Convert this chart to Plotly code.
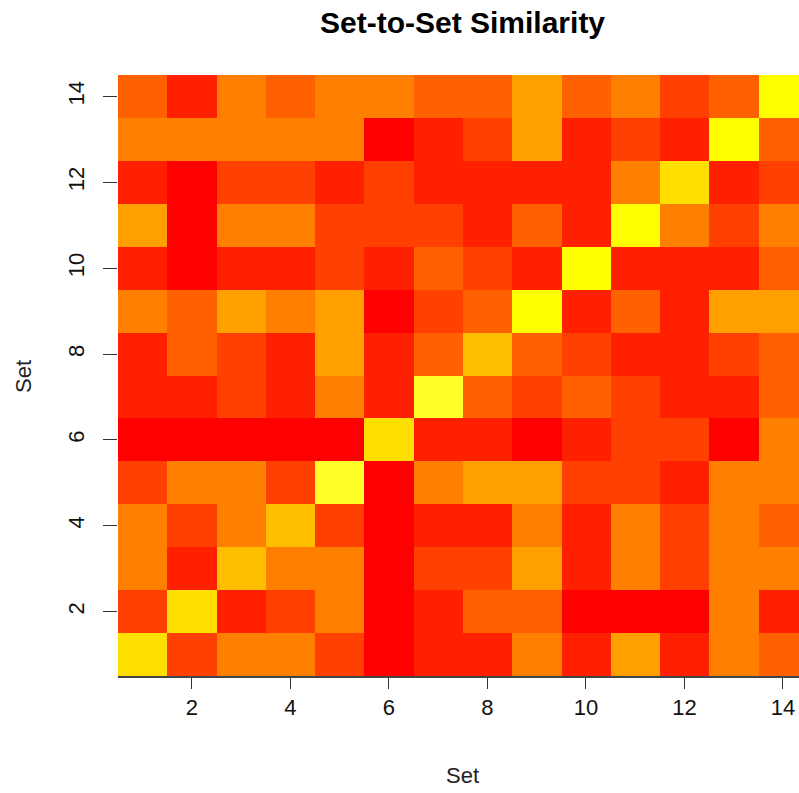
import plotly.graph_objects as go

# Set indices (1..14) used on both axes
sets = list(range(1, 15))

# Similarity level per pair of sets (0 = least similar, 11 = most similar),
# one list per set, ordered set 1 .. set 14
similarity_level = [
    [7, 2, 4, 4, 2, 0, 1, 1, 4, 1, 5, 1, 4, 3],
    [2, 7, 1, 2, 4, 0, 1, 3, 3, 0, 0, 0, 4, 1],
    [4, 1, 6, 4, 4, 0, 2, 2, 5, 1, 4, 2, 4, 4],
    [4, 2, 4, 6, 2, 0, 1, 1, 4, 1, 4, 2, 4, 3],
    [2, 4, 4, 2, 9, 0, 4, 5, 5, 2, 2, 1, 4, 4],
    [0, 0, 0, 0, 0, 7, 1, 1, 0, 1, 2, 2, 0, 4],
    [1, 1, 2, 1, 4, 1, 9, 3, 2, 3, 2, 1, 1, 3],
    [1, 3, 2, 1, 5, 1, 3, 6, 3, 2, 1, 1, 2, 3],
    [4, 3, 5, 4, 5, 0, 2, 3, 8, 1, 3, 1, 5, 5],
    [1, 0, 1, 1, 2, 1, 3, 2, 1, 8, 1, 1, 1, 3],
    [5, 0, 4, 4, 2, 2, 2, 1, 3, 1, 8, 4, 2, 4],
    [1, 0, 2, 2, 1, 2, 1, 1, 1, 1, 4, 7, 1, 2],
    [4, 4, 4, 4, 4, 0, 1, 2, 5, 1, 2, 1, 8, 3],
    [3, 1, 4, 3, 4, 4, 3, 3, 5, 3, 4, 2, 3, 8],
]

tick_values = [2, 4, 6, 8, 10, 12, 14]

# 12-step heat palette (red -> orange -> yellow -> pale yellow)
heat_colors = ["#FF0000", "#FF2000", "#FF4000", "#FF6000", "#FF8000", "#FF9F00",
               "#FFBF00", "#FFDF00", "#FFFF00", "#FFFF2A", "#FFFF80", "#FFFFD5"]

n = len(heat_colors)
colorscale = []
for i, c in enumerate(heat_colors):
    colorscale.append([i / n, c])
    colorscale.append([(i + 1) / n, c])

fig = go.Figure(
    go.Heatmap(
        x=sets,
        y=sets,
        z=similarity_level,
        zmin=-0.5,
        zmax=n - 0.5,
        colorscale=colorscale,
        showscale=False,
        xgap=0,
        ygap=0,
        hovertemplate="Set %{x} vs Set %{y}<br>level %{z}<extra></extra>",
    )
)

font_family = "Liberation Sans, Arial, sans-serif"
W, H = 799, 793
left, top, bottom_px = 118, 74.5, 676.5
center_x = 462  # horizontal centre of the full plotting region
label_size = 22

fig.update_layout(
    width=W,
    height=H,
    margin=dict(l=left, r=0, t=top, b=H - bottom_px, pad=0),
    paper_bgcolor="white",
    plot_bgcolor="white",
    font=dict(family=font_family, size=label_size, color="#000000"),
    showlegend=False,
    annotations=[
        dict(text="<b>Set-to-Set Similarity</b>", xref="paper", yref="paper",
             x=(center_x - left) / (W - left), y=(H - 22 - (H - bottom_px)) / (bottom_px - top),
             xanchor="center", yanchor="middle", showarrow=False,
             font=dict(family=font_family, size=30, color="#000000")),
        dict(text="Set", xref="paper", yref="paper",
             x=(center_x - left) / (W - left), y=-(776 - bottom_px) / (bottom_px - top),
             xanchor="center", yanchor="middle", showarrow=False,
             font=dict(family=font_family, size=label_size, color="#222222")),
        dict(text="Set", xref="paper", yref="paper", textangle=-90,
             x=-(left - 24) / (W - left), y=(bottom_px - 377) / (bottom_px - top),
             xanchor="center", yanchor="middle", showarrow=False,
             font=dict(family=font_family, size=label_size, color="#222222")),
    ],
)

fig.update_xaxes(
    range=[0.5, 14.325],
    tickmode="array",
    tickvals=tick_values,
    ticktext=[str(v) for v in tick_values],
    ticks="outside",
    ticklen=11,
    tickwidth=1.3,
    tickcolor="#333333",
    ticklabelstandoff=0,
    showline=True,
    linecolor="#444444",
    linewidth=2,
    showgrid=False,
    zeroline=False,
    tickfont=dict(family=font_family, size=label_size, color="#111111"),
)

fig.update_yaxes(
    range=[0.5, 14.5],
    tickmode="array",
    tickvals=tick_values,
    ticktext=[str(v) for v in tick_values],
    tickangle=-90,
    ticks="outside",
    ticklen=14,
    tickwidth=1.3,
    tickcolor="#333333",
    ticklabelstandoff=10,
    showline=False,
    showgrid=False,
    zeroline=False,
    tickfont=dict(family=font_family, size=label_size, color="#111111"),
)

fig.write_html("out.html")
